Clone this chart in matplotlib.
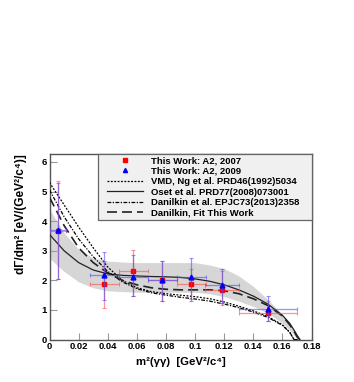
import matplotlib
matplotlib.use("Agg")
import matplotlib.pyplot as plt
from matplotlib.lines import Line2D
from matplotlib.legend_handler import HandlerLine2D
import numpy as np

plt.rcParams['font.family'] = ['Liberation Sans', 'DejaVu Sans']
plt.rcParams['font.weight'] = 'bold'

# ---- data ----
x_pts = [0.0055, 0.0375, 0.0575, 0.0775, 0.0975, 0.1185, 0.15]
x_err = [0.0055, 0.01, 0.01, 0.01, 0.01, 0.012, 0.02]

y_2007 = [3.68, 1.87, 2.32, 2.00, 1.87, 1.68, 0.90]
y_2007_lo = [1.63, 0.80, 0.86, 0.69, 0.50, 0.50, 0.28]
y_2007_hi = [1.67, 0.80, 0.71, 0.66, 0.50, 0.62, 0.39]

y_2009 = [3.70, 2.18, 2.10, 2.02, 2.10, 1.84, 1.04]
y_2009_lo = [1.65, 0.83, 0.64, 0.71, 0.81, 0.61, 0.42]
y_2009_hi = [1.60, 0.77, 0.75, 0.64, 0.67, 0.55, 0.42]

curve_x = [0.0, 0.01, 0.02, 0.03, 0.04, 0.05, 0.06, 0.07, 0.08, 0.09, 0.10,
           0.11, 0.12, 0.13, 0.14, 0.15, 0.16, 0.165, 0.168, 0.17, 0.172]
vmd = [5.30, 4.55, 3.80, 3.10, 2.45, 2.00, 1.75, 1.62, 1.55, 1.50, 1.45,
       1.38, 1.27, 1.13, 0.97, 0.78, 0.50, 0.25, 0.0, 0.0, 0.0]
oset = [3.55, 3.00, 2.60, 2.35, 2.22, 2.17, 2.15, 2.13, 2.12, 2.10, 2.05,
        1.97, 1.85, 1.68, 1.47, 1.20, 0.82, 0.55, 0.32, 0.15, 0.0]
danilkin = [5.05, 4.15, 3.40, 2.80, 2.30, 1.95, 1.72, 1.58, 1.50, 1.43, 1.37,
            1.30, 1.20, 1.08, 0.93, 0.75, 0.48, 0.25, 0.0, 0.0, 0.0]
danilkin_fit = [4.80, 3.85, 3.10, 2.60, 2.25, 2.00, 1.85, 1.75, 1.70, 1.68, 1.68,
                1.68, 1.65, 1.55, 1.38, 1.15, 0.80, 0.50, 0.28, 0.10, 0.0]
band_hi = [4.40, 3.60, 3.05, 2.75, 2.65, 2.62, 2.60, 2.60, 2.60, 2.60, 2.60,
           2.52, 2.40, 2.15, 1.80, 1.35, 0.85, 0.55, 0.35, 0.18, 0.0]
band_lo = [2.75, 2.30, 1.95, 1.75, 1.65, 1.62, 1.60, 1.60, 1.60, 1.60, 1.60,
           1.55, 1.45, 1.30, 1.12, 0.90, 0.55, 0.32, 0.15, 0.03, 0.0]

x_ticks = [0, 0.02, 0.04, 0.06, 0.08, 0.1, 0.12, 0.14, 0.16, 0.18]
x_tick_labels = ['0', '0.02', '0.04', '0.06', '0.08', '0.1', '0.12', '0.14', '0.16', '0.18']
y_ticks = [0, 1, 2, 3, 4, 5, 6]

# ---- figure ----
fig = plt.figure(figsize=(3.54, 3.82), dpi=100)
ax = fig.add_axes([0.14, 0.111, 0.74, 0.486])

ax.fill_between(curve_x, band_lo, band_hi, color='#d6d6d6', lw=0, zorder=1)

l_vmd, = ax.plot(curve_x, vmd, color='black', lw=0.9, ls=(0, (1.5, 1.2)), zorder=3)
l_oset, = ax.plot(curve_x, oset, color='#222222', lw=0.9, ls='-', zorder=3)
l_dan, = ax.plot(curve_x, danilkin, color='black', lw=0.9, ls=(0, (3, 1.2, 1, 1.2)), zorder=3)
l_fit, = ax.plot(curve_x, danilkin_fit, color='#222222', lw=1.2, ls=(0, (6, 3)), zorder=3)

ax.errorbar(x_pts, y_2007, yerr=[y_2007_lo, y_2007_hi], xerr=x_err, fmt='s',
            color='red', ms=3.5, ecolor=(1, 0.3, 0.3, 0.6), elinewidth=0.9,
            capsize=1.5, capthick=0.8, zorder=5)
ax.errorbar(x_pts, y_2009, yerr=[y_2009_lo, y_2009_hi], xerr=x_err, fmt='^',
            color='blue', ms=3.5, ecolor=(0.3, 0.3, 1, 0.6), elinewidth=0.9,
            capsize=1.5, capthick=0.8, zorder=6)

ax.set_xlim(0, 0.18)
ax.set_ylim(0, 6.27)
ax.set_xticks(x_ticks)
ax.set_xticklabels(x_tick_labels)
ax.set_yticks(y_ticks)
ax.tick_params(direction='in', length=5, width=0.8, color='#999999',
               labelsize=6.8, pad=2, top=False, right=False)
for lab in ax.get_xticklabels() + ax.get_yticklabels():
    lab.set_fontweight('bold')
for s in ax.spines.values():
    s.set_color('#555555')
    s.set_linewidth(1.0)

ax.set_xlabel('m²(γγ)  [GeV²/c⁴]', fontsize=8.2, fontweight='bold', labelpad=4)
ax.set_ylabel('dΓ/dm² [eV/(GeV²/c⁴)]', fontsize=8.6, fontweight='bold',
              ha='right')
ax.yaxis.set_label_coords(-0.085, 1.0)

handles = [Line2D([], [], marker='s', ls='none', color='red', ms=3),
           Line2D([], [], marker='^', ls='none', color='blue', ms=3),
           l_vmd, l_oset, l_dan, l_fit]
labels = ['This Work: A2, 2007', 'This Work: A2, 2009',
          'VMD, Ng et al. PRD46(1992)5034', 'Oset et al. PRD77(2008)073001',
          'Danilkin et al. EPJC73(2013)2358', 'Danilkin, Fit This Work']
leg = ax.legend(handles, labels,
                loc='upper left', bbox_to_anchor=(0.185, 1.0, 0.815, 0.0),
                mode='expand', fontsize=6.8, frameon=True, fancybox=False,
                framealpha=1, facecolor='#f0f0f0', edgecolor='#666666',
                handlelength=4.5, handletextpad=0.9, borderpad=0.25,
                labelspacing=0.15, borderaxespad=0,
                handler_map={Line2D: HandlerLine2D(xpad=0.75)})
leg.get_frame().set_linewidth(0.9)
for t in leg.get_texts():
    t.set_fontweight('bold')
leg.set_zorder(10)

fig.savefig('out.png', dpi=100)
